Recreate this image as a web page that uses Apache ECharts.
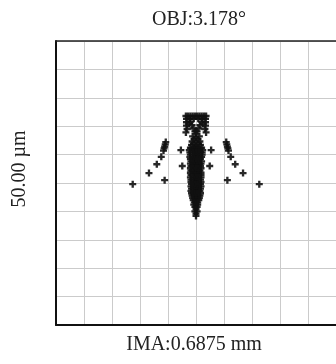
<!DOCTYPE html>
<html><head><meta charset="utf-8">
<script src="https://cdn.jsdelivr.net/npm/echarts@6/dist/echarts.min.js"></script>
<style>html,body{margin:0;padding:0;background:#fff}#c{width:336px;height:364px}</style>
</head><body><div id="c"></div>
<script>
// Spot diagram data in micrometres (x, y)
var titleText = "OBJ:3.178°";
var bottomText = "IMA:0.6875 mm";
var scaleText = "50.00 µm";
var axisMin = -25, axisMax = 25, axisStep = 5;

var rightArm = [[11.3,-0.2],[8.4,1.75],[7.0,3.3],[6.2,4.6],[5.8,5.7],[5.6,6.4],[5.5,6.8],[5.4,7.2],[5.7,6.1],[5.6,0.5],[2.7,5.8],[2.45,3.0]];
var leftArm = [[-11.3,-0.2],[-8.4,1.75],[-7.0,3.3],[-6.2,4.6],[-5.8,5.7],[-5.6,6.4],[-5.5,6.8],[-5.4,7.2],[-5.7,6.1],[-5.6,0.5],[-2.7,5.8],[-2.45,3.0]];
var headPoints = [
  [-1.8,11.8],[-1.4,11.8],[-1.0,11.8],[-0.6,11.8],[-0.2,11.8],[0.2,11.8],[0.6,11.8],[1.0,11.8],[1.4,11.8],[1.8,11.8],
  [-1.7,11.3],[-1.1,11.3],[-0.4,11.3],[0.4,11.3],[1.1,11.3],[1.7,11.3],
  [-1.7,10.7],[1.7,10.7],[-1.7,10.1],[1.7,10.1],[-1.6,9.5],[1.6,9.5],[-1.8,8.9],[1.8,8.9],
  [-1.2,10.4],[1.2,10.4],[-1.0,10.8],[1.0,10.8],[-0.7,10.2],[0.7,10.2],[-0.45,9.6],[0.45,9.6],[-0.2,9.1],[0.2,9.1],[0,8.7]
];
var neckPoints = [[-0.6,8.2],[0.6,8.2],[0,8.0],[-0.35,7.7],[0.35,7.7],[-0.7,7.3],[0.7,7.3],[0,7.2],[-0.45,6.9],[0.45,6.9],[-0.8,6.7],[0.8,6.7],[0,6.5]];
var coreRows = [
  [6.2,[-1.0,-0.4,0,0.4,1.0]],
  [5.8,[-1.2,-0.6,-0.2,0.2,0.6,1.2]],
  [5.4,[-1.1,-0.5,0,0.5,1.1]],
  [5.0,[-1.0,-0.4,0.1,0.6,1.1]],
  [4.6,[-1.1,-0.5,0,0.5,1.0]],
  [4.2,[-1.0,-0.3,0.2,0.8]],
  [3.8,[-0.9,-0.4,0,0.4,1.0]],
  [3.4,[-1.0,-0.5,0,0.5,0.9]],
  [3.0,[-0.9,-0.3,0.2,0.8]],
  [2.6,[-1.0,-0.4,0,0.4,0.9]],
  [2.2,[-0.9,-0.3,0.1,0.7]],
  [1.8,[-1.0,-0.4,0,0.4,0.9]],
  [1.4,[-0.9,-0.2,0.3,0.9]],
  [1.0,[-1.0,-0.4,0,0.4,0.9]],
  [0.6,[-0.9,-0.3,0.2,0.8]],
  [0.2,[-0.9,-0.4,0,0.4,0.9]],
  [-0.2,[-0.8,-0.2,0.3,0.8]],
  [-0.6,[-0.9,-0.4,0,0.4,0.9]],
  [-1.0,[-0.8,-0.2,0.3,0.8]],
  [-1.4,[-0.9,-0.3,0.1,0.7]],
  [-1.8,[-0.8,-0.3,0.2,0.8]],
  [-2.2,[-0.7,-0.2,0.2,0.7]],
  [-2.6,[-0.6,0,0.6]],
  [-3.0,[-0.5,0,0.5]],
  [-3.4,[-0.3,0.3]],
  [-3.8,[-0.4,0,0.3]],
  [-4.2,[-0.2,0.2]],
  [-4.6,[0]],
  [-5.0,[-0.2,0.2]],
  [-5.4,[0]],
  [-5.8,[0]]
];

var corePoints = [];
coreRows.forEach(function(r){ r[1].forEach(function(x){ corePoints.push([x, r[0]]); }); });
var allPoints = [].concat(leftArm, rightArm, headPoints, neckPoints, corePoints);

var plus = 'path://M2,0H4V2H6V4H4V6H2V4H0V2H2Z';
var font = '"Liberation Serif", "Times New Roman", serif';

var chart = echarts.init(document.getElementById('c'), null, {renderer:'canvas'});
chart.setOption({
  animation: false,
  backgroundColor: '#fff',
  grid: {left:56, top:41, width:284, height:284, show:false},
  xAxis: [
    {type:'value', min:axisMin, max:axisMax, interval:axisStep, position:'bottom',
      axisLine:{show:true, onZero:false, lineStyle:{color:'#111', width:2}},
      axisTick:{show:false}, axisLabel:{show:false},
      splitLine:{show:true, lineStyle:{color:'#cbcbcb', width:1}}},
    {type:'value', min:axisMin, max:axisMax, interval:axisStep, position:'top',
      axisLine:{show:true, onZero:false, lineStyle:{color:'#222', width:1.5}},
      axisTick:{show:false}, axisLabel:{show:false}, splitLine:{show:false}}
  ],
  yAxis: {type:'value', min:axisMin, max:axisMax, interval:axisStep,
    axisLine:{show:true, onZero:false, lineStyle:{color:'#111', width:2}},
    axisTick:{show:false}, axisLabel:{show:false},
    splitLine:{show:true, lineStyle:{color:'#cbcbcb', width:1}}},
  series: [{
    type:'scatter', data: allPoints, symbol: plus, symbolSize: 7,
    itemStyle:{color:'#111', opacity:0.9}, silent:true
  }],
  graphic: [
    {type:'text', x:199, y:20, style:{text:titleText, font:'20px ' + font, fill:'#222', textAlign:'center', textVerticalAlign:'middle'}},
    {type:'text', x:194, y:345, style:{text:bottomText, font:'20px ' + font, fill:'#222', textAlign:'center', textVerticalAlign:'middle'}},
    {type:'text', x:20, y:169, rotation:Math.PI/2, style:{text:scaleText, font:'20px ' + font, fill:'#222', textAlign:'center', textVerticalAlign:'middle'}}
  ]
});
</script></body></html>
